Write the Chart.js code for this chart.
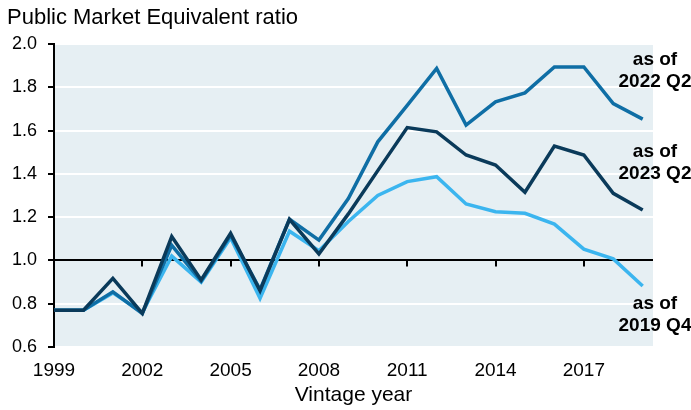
<!DOCTYPE html>
<html>
<head>
<meta charset="utf-8">
<script src="https://cdn.jsdelivr.net/npm/chart.js@4"></script>
<style>
  body { margin: 0; background: #fff; }
  canvas { display: block; }
</style>
</head>
<body>
<canvas id="pmeChart" width="691" height="410"></canvas>
<script>
// vintage years and PME ratios
const years = [1999, 2000, 2001, 2002, 2003, 2004, 2005, 2006, 2007, 2008, 2009,
               2010, 2011, 2012, 2013, 2014, 2015, 2016, 2017, 2018, 2019];
const asOf2023Q2 = [0.77, 0.77, 0.917, 0.755, 1.11, 0.91, 1.125, 0.86, 1.19, 1.03, 1.215,
                    1.415, 1.614, 1.594, 1.487, 1.441, 1.315, 1.528, 1.487, 1.31, 1.233];
const asOf2022Q2 = [0.77, 0.77, 0.855, 0.755, 1.07, 0.905, 1.117, 0.865, 1.19, 1.094, 1.286,
                    1.548, 1.716, 1.887, 1.625, 1.733, 1.774, 1.894, 1.894, 1.725, 1.653];
const asOf2019Q4 = [0.77, 0.77, 0.85, 0.76, 1.02, 0.9, 1.105, 0.825, 1.135, 1.045, 1.18,
                    1.3, 1.364, 1.387, 1.261, 1.225, 1.218, 1.168, 1.052, 1.007, 0.882];
const xTickYears = [1999, 2002, 2005, 2008, 2011, 2014, 2017];
const seriesLabels = [['as of', '2022 Q2'], ['as of', '2023 Q2'], ['as of', '2019 Q4']];

const toPoints = vals => vals.map((v, i) => ({ x: years[i], y: v }));

// plot background, axis line at 1.0 with ticks, text labels
const decorPlugin = {
    id: 'decor',
    beforeDraw(chart) {
        const { ctx, chartArea } = chart;
        ctx.save();
        ctx.fillStyle = '#e6eff3';
        ctx.fillRect(chartArea.left, chartArea.top, chartArea.right - chartArea.left, chartArea.bottom - chartArea.top);
        ctx.restore();
    },
    beforeDatasetsDraw(chart) {
        const { ctx, scales } = chart;
        const y1 = scales.y.getPixelForValue(1.0);
        ctx.save();
        ctx.strokeStyle = '#000';
        ctx.lineWidth = 2;
        xTickYears.slice(1).forEach(yr => {
            const x = Math.round(scales.x.getPixelForValue(yr));
            ctx.beginPath();
            ctx.moveTo(x, y1);
            ctx.lineTo(x, y1 + 6);
            ctx.stroke();
        });
        ctx.restore();
    },
    afterDraw(chart) {
        const { ctx } = chart;
        ctx.save();
        ctx.fillStyle = '#000';
        ctx.font = '22px "Liberation Sans", Arial, sans-serif';
        ctx.textAlign = 'left';
        ctx.textBaseline = 'alphabetic';
        ctx.fillText('Public Market Equivalent ratio', 7, 24);

        ctx.font = 'bold 19px "Liberation Sans", Arial, sans-serif';
        ctx.textAlign = 'center';
        ctx.textBaseline = 'middle';
        const labelY = [[60, 82], [152, 174], [304, 326]];
        seriesLabels.forEach((lines, i) => {
            lines.forEach((t, j) => ctx.fillText(t, 655, labelY[i][j]));
        });
        ctx.restore();
    }
};

const ctx = document.getElementById('pmeChart').getContext('2d');
new Chart(ctx, {
    type: 'line',
    data: {
        datasets: [
            { label: 'as of 2023 Q2', data: toPoints(asOf2023Q2), borderColor: '#0a3a5a' },
            { label: 'as of 2022 Q2', data: toPoints(asOf2022Q2), borderColor: '#0f6ea5' },
            { label: 'as of 2019 Q4', data: toPoints(asOf2019Q4), borderColor: '#3bb5ef' }
        ]
    },
    options: {
        responsive: false,
        animation: false,
        layout: { padding: { left: 0, top: 44, right: 38, bottom: 0 } },
        elements: {
            line: { borderWidth: 3.5, tension: 0, borderJoinStyle: 'miter', fill: false },
            point: { radius: 0 }
        },
        plugins: {
            legend: { display: false },
            tooltip: { enabled: false }
        },
        scales: {
            x: {
                type: 'linear',
                min: 1999,
                max: 2019.35,
                afterBuildTicks: scale => { scale.ticks = xTickYears.map(v => ({ value: v })); },
                afterFit: scale => { scale.height = 63; },
                grid: { display: false, drawTicks: false, tickLength: 0 },
                border: { display: false },
                ticks: {
                    color: '#000',
                    padding: 12,
                    maxRotation: 0,
                    font: { family: '"Liberation Sans", Arial, sans-serif', size: 19 },
                    callback: v => String(v)
                },
                title: {
                    display: true,
                    text: 'Vintage year',
                    color: '#000',
                    padding: { top: 0, bottom: 2 },
                    font: { family: '"Liberation Sans", Arial, sans-serif', size: 21 }
                }
            },
            y: {
                min: 0.6,
                max: 2.0,
                afterFit: scale => { scale.width = 54; },
                ticks: {
                    stepSize: 0.2,
                    color: '#000',
                    padding: 11,
                    font: { family: '"Liberation Sans", Arial, sans-serif', size: 18 },
                    callback: v => v.toFixed(1)
                },
                grid: {
                    color: c => (Math.abs(c.tick.value - 1.0) < 1e-6 ? '#000' : '#fff'),
                    lineWidth: 2,
                    tickColor: '#000',
                    tickLength: 6,
                    tickWidth: 2
                },
                border: { display: true, color: '#000', width: 2 }
            }
        }
    },
    plugins: [decorPlugin]
});
</script>
</body>
</html>
